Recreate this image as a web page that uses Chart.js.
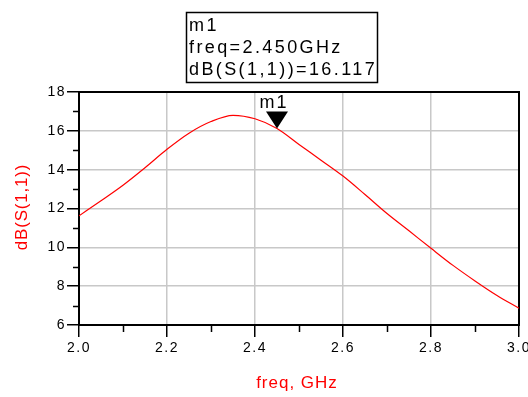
<!DOCTYPE html>
<html>
<head>
<meta charset="utf-8">
<script src="https://cdn.jsdelivr.net/npm/chart.js@4/dist/chart.umd.min.js"></script>
<style>
html,body{margin:0;padding:0;background:#fff;}
#wrap{width:528px;height:397px;position:relative;}
canvas{display:block;}
</style>
</head>
<body>
<div id="wrap"><canvas id="c" width="528" height="397"></canvas></div>
<script>
// ---- data ----
const freqs = [2.00,2.05,2.10,2.15,2.20,2.25,2.30,2.35,2.40,2.45,2.50,2.55,2.60,2.65,2.70,2.75,2.80,2.85,2.90,2.95,3.00];
const s11dB = [11.62,12.40,13.20,14.10,15.05,15.88,16.48,16.80,16.62,16.12,15.30,14.49,13.67,12.72,11.74,10.85,9.95,9.07,8.27,7.52,6.86];
const xTicks = [2.0,2.2,2.4,2.6,2.8,3.0];
const yTicks = [6,8,10,12,14,16,18];
const xMinorTicks = [2.1,2.3,2.5,2.7,2.9];
const yMinorTicks = [7,9,11,13,15,17];
const markerName = 'm1';
const markerFreq = 2.45;
const markerValue = 16.117;
const markerLines = ['m1','freq=2.450GHz','dB(S(1,1))=16.117'];
const xTitle = 'freq, GHz';
const yTitle = 'dB(S(1,1))';

const FONT = '"Liberation Sans", Arial, sans-serif';

const decor = {
  id: 'decor',
  beforeDraw(chart) {
    chart.ctx.letterSpacing = '1.5px';
  },
  beforeDatasetsDraw(chart) {
    const ctx = chart.ctx, a = chart.chartArea;
    const xs = chart.scales.x, ys = chart.scales.y;
    ctx.save();
    ctx.strokeStyle = '#000';
    ctx.lineWidth = 1.5;
    // minor ticks
    ctx.beginPath();
    yMinorTicks.forEach(v => {
      const py = Math.round(ys.getPixelForValue(v)) + 0.5;
      ctx.moveTo(a.left - 6, py); ctx.lineTo(a.left, py);
    });
    xMinorTicks.forEach(v => {
      const px = Math.round(xs.getPixelForValue(v)) + 0.5;
      ctx.moveTo(px, a.bottom); ctx.lineTo(px, a.bottom + 7);
    });
    ctx.stroke();
    // frame
    ctx.lineWidth = 2;
    ctx.strokeRect(a.left, a.top, a.right - a.left, a.bottom - a.top);
    ctx.restore();
  },
  afterDatasetsDraw(chart) {
    const ctx = chart.ctx;
    const xs = chart.scales.x, ys = chart.scales.y;
    ctx.save();
    // marker triangle
    const mx = xs.getPixelForValue(markerFreq), my = ys.getPixelForValue(markerValue);
    ctx.fillStyle = '#000';
    ctx.beginPath();
    ctx.moveTo(mx, my);
    ctx.lineTo(mx - 11, my - 17);
    ctx.lineTo(mx + 11, my - 17);
    ctx.closePath();
    ctx.fill();
    ctx.font = '18px ' + FONT;
    ctx.letterSpacing = '2px';
    ctx.textAlign = 'center';
    ctx.textBaseline = 'alphabetic';
    ctx.fillText(markerName, mx - 3, my - 21);
    // marker readout box
    ctx.lineWidth = 1.5;
    ctx.strokeStyle = '#000';
    ctx.strokeRect(186.5, 12.5, 191, 70);
    ctx.textAlign = 'left';
    ctx.letterSpacing = '2.4px';
    markerLines.forEach((t, i) => ctx.fillText(t, 189, 31 + i * 22));
    // axis titles
    ctx.fillStyle = '#ff0000';
    ctx.font = '17px ' + FONT;
    ctx.letterSpacing = '1px';
    ctx.textAlign = 'center';
    ctx.textBaseline = 'middle';
    ctx.fillText(xTitle, 297, 383);
    ctx.save();
    ctx.translate(22, 207);
    ctx.rotate(-Math.PI / 2);
    ctx.letterSpacing = '0.8px';
    ctx.fillText(yTitle, 0, 0);
    ctx.restore();
    ctx.restore();
  }
};

new Chart(document.getElementById('c'), {
  type: 'line',
  data: {
    datasets: [{
      data: freqs.map((f, i) => ({x: f, y: s11dB[i]})),
      borderColor: '#ff0000',
      borderWidth: 1.2,
      pointRadius: 0,
      fill: false,
      cubicInterpolationMode: 'monotone'
    }]
  },
  options: {
    responsive: false,
    animation: false,
    devicePixelRatio: 1,
    layout: {padding: {top: 92, right: 9, left: 0, bottom: 0}},
    plugins: {legend: {display: false}, tooltip: {enabled: false}, title: {display: false}},
    scales: {
      x: {
        type: 'linear', min: 2, max: 3,
        afterBuildTicks: s => { s.ticks = xTicks.map(v => ({value: v})); },
        ticks: {
          color: '#000', font: {family: FONT, size: 14}, padding: 3, maxRotation: 0,
          callback: v => Number(v).toFixed(1)
        },
        grid: {color: '#c8c8c8', lineWidth: 1.5, tickLength: 12, tickColor: '#000', tickWidth: 1.5},
        border: {display: false},
        afterFit: s => { s.height = 72; s.paddingLeft = 0; s.paddingRight = 0; }
      },
      y: {
        type: 'linear', min: 6, max: 18,
        afterBuildTicks: s => { s.ticks = yTicks.map(v => ({value: v})); },
        ticks: {color: '#000', font: {family: FONT, size: 14}, padding: 1, callback: v => String(v)},
        grid: {color: '#c8c8c8', lineWidth: 1.5, tickLength: 12, tickColor: '#000', tickWidth: 1.5},
        border: {display: false},
        afterFit: s => { s.width = 79; s.paddingTop = 0; s.paddingBottom = 0; }
      }
    }
  },
  plugins: [decor]
});
</script>
</body>
</html>
